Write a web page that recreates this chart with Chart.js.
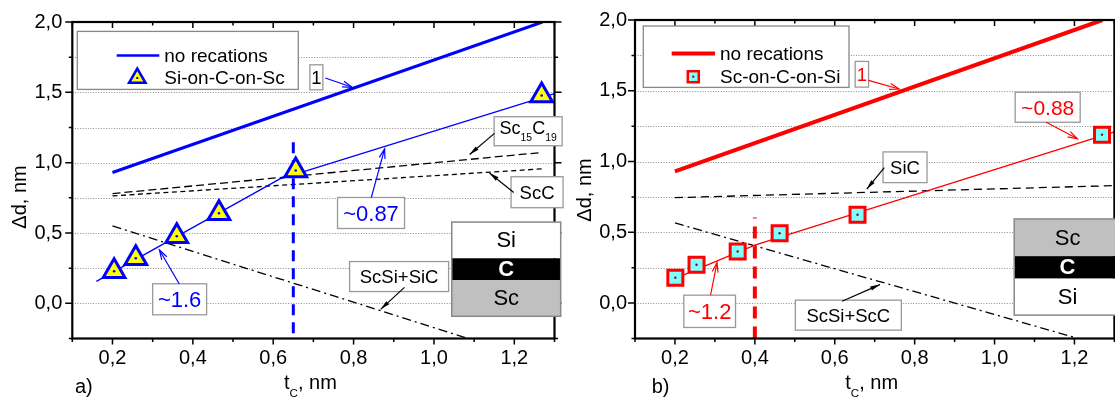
<!DOCTYPE html>
<html>
<head>
<meta charset="utf-8">
<script src="https://cdn.jsdelivr.net/npm/chart.js@4.4.1/dist/chart.umd.min.js"></script>
<style>
  html, body { margin: 0; padding: 0; background: #fff; overflow: hidden; width: 1115px; height: 398px; }
  canvas { position: absolute; top: 0; }
</style>
</head>
<body>
<canvas id="chart-a" width="570" height="398" style="left:0"></canvas>
<canvas id="chart-b" width="560" height="398" style="left:568px"></canvas>
<script>
const FONT = "'Liberation Sans', Arial, sans-serif";
const BLUE = '#0000ff';
const RED = '#ff0000';

// ---- panel a: Si-on-C-on-Sc ----
const tMarksA = [0.204, 0.258, 0.360, 0.465, 0.656, 1.268];
const dMarksA = [0.228, 0.320, 0.477, 0.640, 0.944, 1.478];
const tFitA1 = [0.16, 0.67], dFitA1 = [0.156, 0.97];
const tFitA2 = [0.62, 1.30], dFitA2 = [0.886, 1.49];
const tSc15C19 = [0.2, 1.27], dSc15C19 = [0.78, 1.073];
const tScC = [0.2, 1.27], dScC = [0.764, 0.956];
const tScSiSiC = [0.2, 1.08], dScSiSiC = [0.55, -0.245];
const tVertA = [0.65, 0.65], dVertA = [-0.213, 1.168];

// ---- panel b: Sc-on-C-on-Si ----
const tMarksB = [0.201, 0.254, 0.357, 0.462, 0.657, 1.269];
const dMarksB = [0.180, 0.271, 0.365, 0.493, 0.624, 1.190];
const tFitB = [0.18, 0.40, 1.30], dFitB = [0.15, 0.41, 1.21];
const tSiC = [0.2, 1.3], dSiC = [0.745, 0.83];
const tScSiScC = [0.2, 1.21], dScSiScC = [0.566, -0.25];
const tVertB = [0.4, 0.4], dVertB = [-0.25, 0.605];

// "no recations" line (slope 1), both panels
const tNoReact = [0.2, 1.27], dNoReact = [0.93, 2.0];

// axes
const xMin = 0.1, xMax = 1.3, xStep = 0.1;
const yMin = -0.25, yMax = 2.0, yStep = 0.25;

const pts = (ts, ds) => ts.map((t, i) => ({ x: t, y: ds[i] }));

Chart.defaults.font.family = FONT;
Chart.defaults.font.size = 20;
Chart.defaults.color = '#000';

function lineSet(ts, ds, color, width, dash, order) {
  return {
    data: pts(ts, ds), showLine: true, borderColor: color, borderWidth: width,
    borderDash: dash || [], pointRadius: 0, fill: false, tension: 0, order: order || 5
  };
}

function arrow(ctx, x1, y1, x2, y2, color, filled) {
  ctx.strokeStyle = color; ctx.fillStyle = color; ctx.lineWidth = 1.2; ctx.setLineDash([]);
  ctx.beginPath(); ctx.moveTo(x1, y1); ctx.lineTo(x2, y2); ctx.stroke();
  const ang = Math.atan2(y2 - y1, x2 - x1), L = 10, w = filled ? 0.22 : 0.3;
  ctx.beginPath();
  ctx.moveTo(x2 - L * Math.cos(ang - w), y2 - L * Math.sin(ang - w));
  ctx.lineTo(x2, y2);
  ctx.lineTo(x2 - L * Math.cos(ang + w), y2 - L * Math.sin(ang + w));
  if (filled) { ctx.closePath(); ctx.fill(); } else ctx.stroke();
}

function drawRich(ctx, parts, cx, base, size, color) {
  ctx.fillStyle = color; ctx.textAlign = 'left'; ctx.textBaseline = 'alphabetic';
  const fs = p => p.sub ? size * 0.58 : size;
  let w = 0;
  parts.forEach(p => { ctx.font = fs(p) + 'px ' + FONT; w += ctx.measureText(p.s).width; });
  let xx = cx - w / 2;
  parts.forEach(p => {
    ctx.font = fs(p) + 'px ' + FONT;
    ctx.fillText(p.s, xx, base + (p.sub ? size * 0.4 : 0));
    xx += ctx.measureText(p.s).width;
  });
}

function triPath(ctx, x, y, r) {
  ctx.beginPath();
  for (let i = 0; i < 3; i++) {
    const a = -Math.PI / 2 + i * 2 * Math.PI / 3;
    ctx[i ? 'lineTo' : 'moveTo'](x + r * Math.cos(a), y + r * Math.sin(a));
  }
  ctx.closePath();
}

// dotted horizontal grid at every y tick, under the data
const dottedGrid = {
  id: 'dottedGrid',
  beforeDatasetsDraw(chart) {
    const { ctx, chartArea: a, scales: { y } } = chart;
    ctx.save();
    ctx.strokeStyle = '#8c8c8c'; ctx.lineWidth = 1; ctx.setLineDash([1, 1.6]);
    y.ticks.forEach(t => {
      const p = Math.round(y.getPixelForValue(t.value)) + 0.5;
      if (p < a.top + 2 || p > a.bottom - 2) return;
      ctx.beginPath(); ctx.moveTo(a.left, p); ctx.lineTo(a.right, p); ctx.stroke();
    });
    ctx.restore();
  }
};

function decor(cfg) {
  return {
    id: 'decor',
    afterDatasetsDraw(chart) {
      const { ctx, chartArea: a, scales: { x, y } } = chart;
      const X = v => x.getPixelForValue(v), Y = v => y.getPixelForValue(v);
      ctx.save();

      // frame and ticks
      ctx.strokeStyle = '#000'; ctx.lineWidth = 2.2; ctx.setLineDash([]);
      ctx.strokeRect(a.left, a.top, a.right - a.left, a.bottom - a.top);
      ctx.lineWidth = 1.5;
      ctx.beginPath();
      x.ticks.forEach(t => {
        const p = X(t.value), len = Math.round(t.value * 10) % 2 === 0 ? 6 : 3.5;
        ctx.moveTo(p, a.bottom); ctx.lineTo(p, a.bottom + len);
        ctx.moveTo(p, a.top); ctx.lineTo(p, a.top + len);
      });
      y.ticks.forEach(t => {
        const p = Y(t.value), len = Math.round(t.value * 4) % 2 === 0 ? 7 : 3.5;
        ctx.moveTo(a.left, p); ctx.lineTo(a.left - len, p);
        ctx.moveTo(a.right, p); ctx.lineTo(a.right + len, p);
      });
      ctx.stroke();

      // legend
      const lg = cfg.legend;
      ctx.fillStyle = '#fff'; ctx.strokeStyle = '#888'; ctx.lineWidth = 1.3; ctx.setLineDash([]);
      ctx.fillRect(a.left + lg.box[0], a.top + lg.box[1], lg.box[2], lg.box[3]);
      ctx.strokeRect(a.left + lg.box[0], a.top + lg.box[1], lg.box[2], lg.box[3]);
      ctx.strokeStyle = lg.color; ctx.lineWidth = lg.width;
      ctx.beginPath();
      ctx.moveTo(a.left + lg.line[0], a.top + lg.line[2]);
      ctx.lineTo(a.left + lg.line[1], a.top + lg.line[2]);
      ctx.stroke();
      const mx = a.left + lg.mark[0], my = a.top + lg.mark[1];
      if (lg.type === 'tri') {
        triPath(ctx, mx, my, 9.5);
        ctx.fillStyle = '#ffff00'; ctx.fill();
        ctx.strokeStyle = BLUE; ctx.lineWidth = 2.5; ctx.stroke();
        ctx.fillStyle = BLUE;
      } else {
        ctx.fillStyle = '#80ffff'; ctx.fillRect(mx - 5.5, my - 5.5, 11, 11);
        ctx.strokeStyle = RED; ctx.lineWidth = 2.5; ctx.strokeRect(mx - 5.5, my - 5.5, 11, 11);
        ctx.fillStyle = '#900';
      }
      ctx.fillRect(mx - 1, my - 1, 2, 2);
      ctx.fillStyle = '#000'; ctx.font = '19px ' + FONT; ctx.textAlign = 'left'; ctx.textBaseline = 'middle';
      ctx.fillText('no recations', a.left + lg.text, a.top + lg.line[2] + 1);
      ctx.fillText(lg.label, a.left + lg.text, a.top + lg.mark[1] + 1);

      // inset layer stack
      const ins = cfg.inset;
      const il = X(ins.t[0]), ir = X(ins.t[1]);
      ins.layers.forEach(L => {
        const top = Y(L.d[0]), bot = Y(L.d[1]);
        ctx.fillStyle = L.fill; ctx.fillRect(il, top, ir - il, bot - top);
        ctx.fillStyle = L.fill === '#000' ? '#fff' : '#000';
        ctx.font = (L.name === 'C' ? 'bold 22px ' : '22px ') + FONT;
        ctx.textAlign = 'center'; ctx.textBaseline = 'middle';
        ctx.fillText(L.name, (il + ir) / 2, (top + bot) / 2 + 1);
      });
      ctx.strokeStyle = '#888'; ctx.lineWidth = 1.5;
      ctx.strokeRect(il, Y(ins.layers[0].d[0]), ir - il, Y(ins.layers[2].d[1]) - Y(ins.layers[0].d[0]));

      // labelled notes with arrows
      cfg.notes.forEach(n => {
        const cx = X(n.t), cy = Y(n.d);
        ctx.fillStyle = '#fff'; ctx.strokeStyle = '#999'; ctx.lineWidth = 1.3;
        ctx.fillRect(cx - n.w / 2, cy - n.h / 2, n.w, n.h);
        ctx.strokeRect(cx - n.w / 2, cy - n.h / 2, n.w, n.h);
        drawRich(ctx, n.parts, cx, cy + n.size * 0.36 + (n.dy || 0), n.size, n.color);
        const ar = n.arrow;
        arrow(ctx, X(ar.from[0]), Y(ar.from[1]), X(ar.to[0]), Y(ar.to[1]), ar.color, ar.color === '#000');
      });

      // axis titles and panel label
      drawRich(ctx, [{ s: 't' }, { s: 'C', sub: true }, { s: ', nm' }], (a.left + a.right) / 2 - 3, 389, 20, '#000');
      ctx.save();
      ctx.translate(a.left + cfg.yTitleDx, cfg.yTitleY);
      ctx.rotate(-Math.PI / 2);
      ctx.fillStyle = '#000'; ctx.font = '20px ' + FONT; ctx.textAlign = 'center'; ctx.textBaseline = 'middle';
      ctx.fillText('\u0394d, nm', 0, 0);
      ctx.restore();
      ctx.fillStyle = '#000'; ctx.font = '20px ' + FONT; ctx.textAlign = 'left'; ctx.textBaseline = 'alphabetic';
      ctx.fillText(cfg.panel, a.left + cfg.panelDx, 393);
      ctx.restore();
    }
  };
}

function scales(yWidth, yPad) {
  return {
    x: {
      type: 'linear', min: xMin, max: xMax,
      grid: { display: false, drawTicks: false },
      border: { display: false },
      ticks: {
        stepSize: xStep, padding: 8, maxRotation: 0, autoSkip: false,
        callback: v => Math.round(v * 10) % 2 === 0 ? v.toFixed(1).replace('.', ',') : ''
      },
      afterFit: s => { s.height = 59.5; }
    },
    y: {
      type: 'linear', min: yMin, max: yMax,
      grid: { display: false, drawTicks: false },
      border: { display: false },
      ticks: {
        stepSize: yStep, padding: yPad, autoSkip: false,
        callback: v => Math.round(v * 4) % 2 === 0 ? v.toFixed(1).replace('.', ',') : ''
      },
      afterFit: s => { s.width = yWidth; }
    }
  };
}

const commonPlugins = { legend: { display: false }, tooltip: { enabled: false } };

// ---- chart a ----
new Chart(document.getElementById('chart-a'), {
  type: 'scatter',
  data: {
    datasets: [
      { data: pts(tMarksA, dMarksA), pointStyle: 'circle', pointRadius: 1.3, pointBackgroundColor: BLUE,
        pointBorderWidth: 0, order: 0, clip: false },
      { data: pts(tMarksA, dMarksA), pointStyle: 'triangle', pointRadius: 12.5, pointBackgroundColor: '#ffff00',
        pointBorderColor: BLUE, pointBorderWidth: 3, order: 1, clip: false },
      lineSet(tFitA1, dFitA1, BLUE, 1.3, null, 2),
      lineSet(tFitA2, dFitA2, BLUE, 1.3, null, 2),
      lineSet(tNoReact, dNoReact, BLUE, 3, null, 3),
      lineSet(tVertA, dVertA, BLUE, 3, [11, 7], 3),
      lineSet(tSc15C19, dSc15C19, '#000', 1.3, [8, 4], 4),
      lineSet(tScC, dScC, '#000', 1.3, [5, 3.5], 4),
      lineSet(tScSiSiC, dScSiSiC, '#000', 1.3, [9, 4, 2, 4], 4)
    ]
  },
  options: {
    responsive: false, animation: false, events: [],
    layout: { padding: { left: 0, top: 18.3, right: 12.7, bottom: 0 } },
    plugins: commonPlugins,
    scales: scales(72.3, 10)
  },
  plugins: [dottedGrid, decor({
    panel: 'a)', panelDx: 2.7, yTitleDx: -52, yTitleY: 197,
    legend: { box: [5, 9.4, 221, 58], line: [44.4, 87, 33.4], mark: [65, 56], text: 92,
              color: BLUE, width: 2.5, type: 'tri', label: 'Si-on-C-on-Sc' },
    inset: { t: [1.0443, 1.3154], layers: [
      { name: 'Si', fill: '#fff', d: [0.5777, 0.3204] },
      { name: 'C', fill: '#000', d: [0.3204, 0.1658] },
      { name: 'Sc', fill: '#c0c0c0', d: [0.1658, -0.0921] }] },
    notes: [
      { parts: [{ s: '1' }], t: 0.7074, d: 1.607, w: 13, h: 25, color: '#000', size: 18.5,
        arrow: { from: [0.7296, 1.6015], to: [0.7963, 1.5362], color: BLUE } },
      { parts: [{ s: 'Sc' }, { s: '15', sub: true }, { s: 'C' }, { s: '19', sub: true }], t: 1.2344, d: 1.2235,
        w: 68, h: 29, color: '#000', size: 18, dy: -3.6,
        arrow: { from: [1.1506, 1.208], to: [1.0888, 1.0583], color: '#000' } },
      { parts: [{ s: 'ScC' }], t: 1.2566, d: 0.790, w: 52, h: 31, color: '#000', size: 18.5,
        arrow: { from: [1.1985, 0.7885], to: [1.1382, 0.9269], color: '#000' } },
      { parts: [{ s: '~0.87' }], t: 0.8434, d: 0.6423, w: 67, h: 31, color: BLUE, size: 22,
        arrow: { from: [0.8441, 0.7512], to: [0.8772, 1.0977], color: BLUE } },
      { parts: [{ s: '~1.6' }], t: 0.3671, d: 0.0288, w: 54, h: 31, color: BLUE, size: 22,
        arrow: { from: [0.3663, 0.1377], to: [0.3169, 0.3788], color: BLUE } },
      { parts: [{ s: 'ScSi+SiC' }], t: 0.9133, d: 0.1904, w: 99, h: 30, color: '#000', size: 18.5,
        arrow: { from: [0.9266, 0.1138], to: [0.8673, -0.0429], color: '#000' } }
    ]
  })]
});

// ---- chart b ----
new Chart(document.getElementById('chart-b'), {
  type: 'scatter',
  data: {
    datasets: [
      { data: pts(tMarksB, dMarksB), pointStyle: 'circle', pointRadius: 1.2, pointBackgroundColor: '#990000',
        pointBorderWidth: 0, order: 0, clip: false },
      { data: pts(tMarksB, dMarksB), pointStyle: 'rect', pointRadius: 10.6, pointBackgroundColor: '#80ffff',
        pointBorderColor: RED, pointBorderWidth: 3, order: 1, clip: false },
      lineSet(tFitB, dFitB, RED, 1.3, null, 2),
      lineSet(tNoReact, dNoReact, RED, 4, null, 3),
      lineSet(tVertB, dVertB, RED, 4, [12, 8], 3),
      lineSet(tSiC, dSiC, '#000', 1.3, [8, 5], 4),
      lineSet(tScSiScC, dScSiScC, '#000', 1.3, [9, 4, 2, 4], 4)
    ]
  },
  options: {
    responsive: false, animation: false, events: [],
    layout: { padding: { left: 0, top: 18.3, right: 7.5, bottom: 0 } },
    plugins: commonPlugins,
    scales: scales(67, 8)
  },
  plugins: [dottedGrid, decor({
    panel: 'b)', panelDx: 16.7, yTitleDx: -50, yTitleY: 190,
    legend: { box: [8.3, 6, 205.7, 61.4], line: [36.7, 80, 33.4], mark: [58.3, 56.7], text: 85,
              color: RED, width: 4, type: 'sq', label: 'Sc-on-C-on-Si' },
    inset: { t: [1.0492, 1.3162], layers: [
      { name: 'Sc', fill: '#c0c0c0', d: [0.5945, 0.3317] },
      { name: 'C', fill: '#000', d: [0.3317, 0.1729] },
      { name: 'Si', fill: '#fff', d: [0.1729, -0.085] }] },
    notes: [
      { parts: [{ s: '1' }], t: 0.6679, d: 1.6166, w: 13.4, h: 25.7, color: RED, size: 18.5,
        arrow: { from: [0.6844, 1.5735], to: [0.7610, 1.5123], color: RED } },
      { parts: [{ s: '~0.88' }], t: 1.133, d: 1.3837, w: 65, h: 30, color: RED, size: 21,
        arrow: { from: [1.1293, 1.2783], to: [1.2074, 1.1609], color: RED } },
      { parts: [{ s: 'SiC' }], t: 0.7759, d: 0.9596, w: 44, h: 30.7, color: '#000', size: 18.5,
        arrow: { from: [0.724, 0.9571], to: [0.6802, 0.8053], color: '#000' } },
      { parts: [{ s: '~1.2' }], t: 0.2869, d: -0.058, w: 51.7, h: 32.3, color: RED, size: 22,
        arrow: { from: [0.289, 0.0555], to: [0.3053, 0.2853], color: RED } },
      { parts: [{ s: 'ScSi+ScC' }], t: 0.634, d: -0.085, w: 106, h: 30, color: '#000', size: 18.5,
        arrow: { from: [0.6184, 0.0134], to: [0.7131, 0.1307], color: '#000' } }
    ]
  })]
});
</script>
</body>
</html>
